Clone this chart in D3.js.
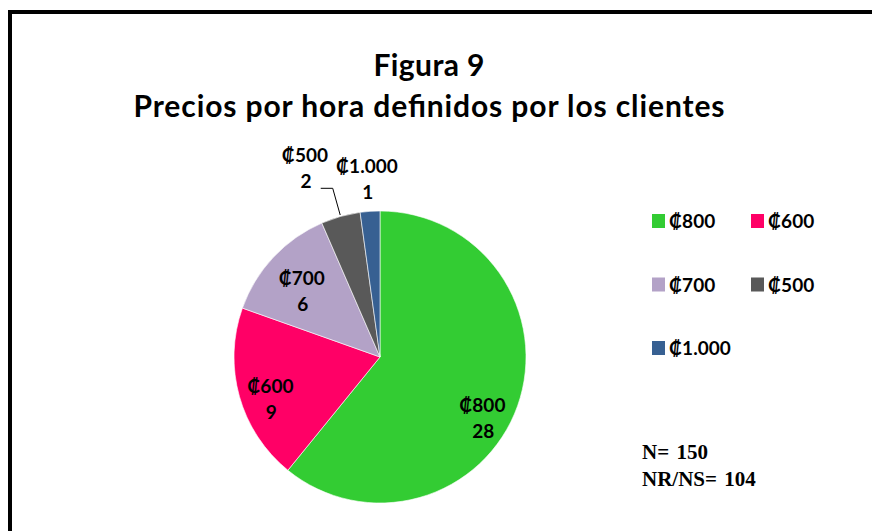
<!DOCTYPE html>
<html>
<head>
<meta charset="utf-8">
<script src="https://cdn.jsdelivr.net/npm/d3@7"></script>
<style>
body {margin:0; background:#fff;}
text {font-family: Lato, "Open Sans", sans-serif; font-weight:bold; fill:#000;}
</style>
</head>
<body>
<svg id="chart" width="872" height="531"></svg>
<script>
var categorias = ["₡800", "₡600", "₡700", "₡500", "₡1.000"];
var valores = [28, 9, 6, 2, 1];
var colores = ["#33cc33", "#ff0066", "#b3a2c7", "#595959", "#376092"];
var titulo = ["Figura 9", "Precios por hora definidos por los clientes"];
var notas = ["N= 150", "NR/NS= 104"];

var svg = d3.select("#chart");

// marco
svg.append("rect")
	.attr("x", 10).attr("y", 12)
	.attr("width", 900).attr("height", 560)
	.attr("fill", "none")
	.attr("stroke", "#000")
	.attr("stroke-width", 4);

var anchoTitulo = [111, 591];
svg.selectAll(".titulo")
	.data(titulo)
	.enter().append("text")
	.attr("class", "titulo")
	.attr("x", 429)
	.attr("y", function(d, i) { return 76 + i * 41; })
	.attr("text-anchor", "middle")
	.attr("textLength", function(d, i) { return anchoTitulo[i]; })
	.attr("lengthAdjust", "spacing")
	.style("font-size", "30px")
	.text(function(d) { return d; });

var radius = 146;
var g = svg.append("g").attr("transform", "translate(" + 380 + "," + 357 + ")");

var pie = d3.pie().sort(null).value(function(d) { return d; });
var arc = d3.arc().innerRadius(0).outerRadius(radius);
var labelArc = d3.arc().innerRadius(radius * 0.78).outerRadius(radius * 0.78);
var outerArc = d3.arc().innerRadius(radius * 1.22).outerRadius(radius * 1.22);
var lineArc = d3.arc().innerRadius(radius * 1.2).outerRadius(radius * 1.2);
var edgeArc = d3.arc().innerRadius(radius * 1.01).outerRadius(radius * 1.01);

var arcs = pie(valores);

g.selectAll("path")
	.data(arcs)
	.enter().append("path")
	.attr("d", arc)
	.attr("fill", function(d, i) { return colores[i]; })
	.attr("stroke", "#fff")
	.attr("stroke-width", 0.6);

// ajuste fino de cada etiqueta (como las coloca Excel)
var ajuste = [[-5, 24], [0, 12], [5, 13], [-27, -16], [-1, 1]];

var etiquetas = g.selectAll(".etiqueta")
	.data(arcs)
	.enter().append("text")
	.attr("class", "etiqueta")
	.attr("text-anchor", "middle")
	.style("font-size", "19px")
	.attr("transform", function(d, i) {
		var fuera = d.value / d3.sum(valores) < 0.06;
		var p = fuera ? outerArc.centroid(d) : labelArc.centroid(d);
		return "translate(" + (p[0] + ajuste[i][0]) + "," + (p[1] + ajuste[i][1] - 7) + ")";
	});
etiquetas.append("tspan")
	.attr("x", 0)
	.text(function(d, i) { return categorias[i]; });
etiquetas.append("tspan")
	.attr("x", 1)
	.attr("dy", 26)
	.text(function(d) { return d.value; });

// linea guia del ₡500
var d500 = arcs[3];
var p0 = edgeArc.centroid(d500), p1 = lineArc.centroid(d500);
g.append("polyline")
	.attr("points", [p0, p1, [p1[0] - 12, p1[1]]].join(" "))
	.attr("fill", "none")
	.attr("stroke", "#000")
	.attr("stroke-width", 1);

// leyenda
var leyenda = svg.selectAll(".ley")
	.data(categorias)
	.enter().append("g")
	.attr("class", "ley")
	.attr("transform", function(d, i) {
		return "translate(" + (652 + (i % 2) * 99) + "," + (214 + Math.floor(i / 2) * 63.5) + ")";
	});
leyenda.append("rect")
	.attr("width", 13).attr("height", 14)
	.attr("fill", function(d, i) { return colores[i]; });
leyenda.append("text")
	.attr("x", 17).attr("y", 14)
	.style("font-size", "19px")
	.text(function(d) { return d; });

svg.selectAll(".nota")
	.data(notas)
	.enter().append("text")
	.attr("class", "nota")
	.attr("x", 642)
	.attr("y", function(d, i) { return 459 + i * 27; })
	.attr("xml:space", "preserve")
	.style("font-family", "'Liberation Serif', 'Times New Roman', serif")
	.style("font-size", "21px")
	.style("word-spacing", "2px")
	.text(function(d) { return d; });
</script>
</body>
</html>
